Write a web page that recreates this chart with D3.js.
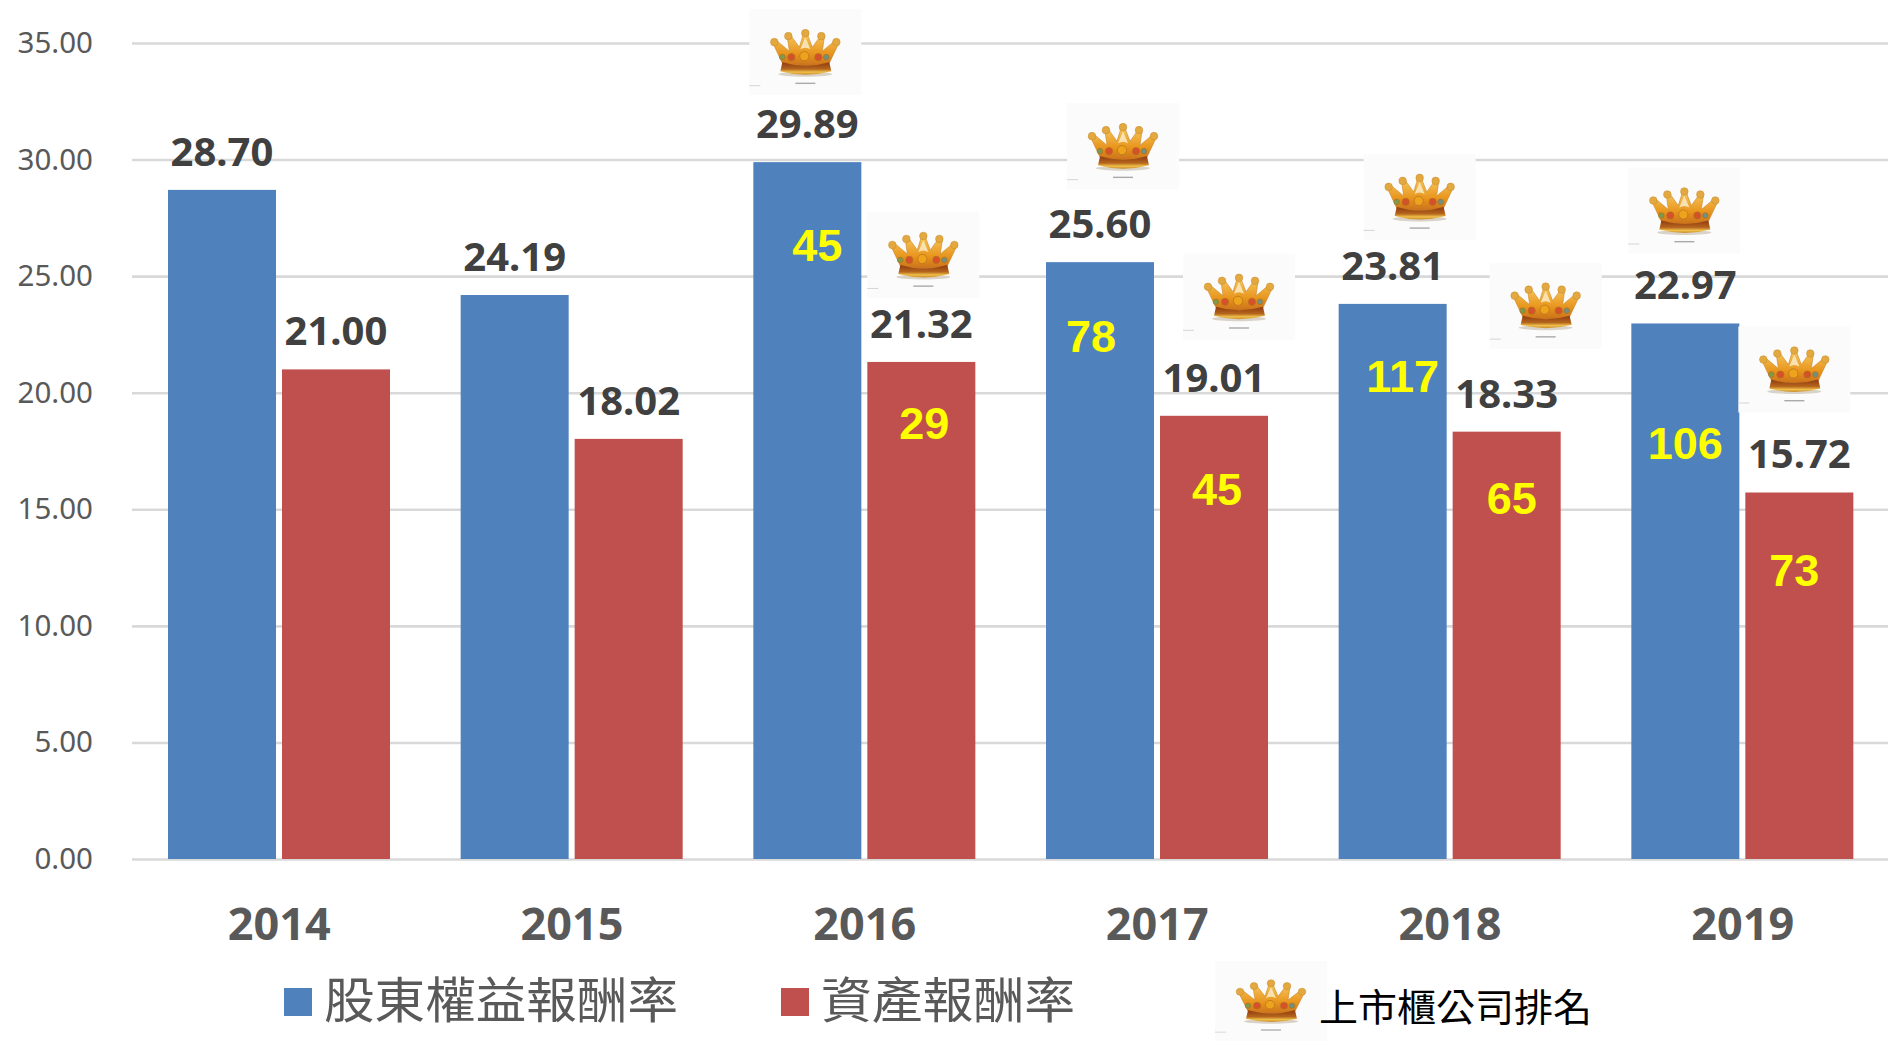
<!DOCTYPE html>
<html><head><meta charset="utf-8">
<script src="https://cdn.jsdelivr.net/npm/d3@7/dist/d3.min.js"></script>
<style>html,body{margin:0;padding:0;background:#fff}svg{display:block}</style>
</head><body><svg id="c" width="1888" height="1041"></svg>
<script>
const years = ["2014","2015","2016","2017","2018","2019"];
const roe = [28.70,24.19,29.89,25.60,23.81,22.97];
const roa = [21.00,18.02,21.32,19.01,18.33,15.72];
const roeRank = [null,null,45,78,117,106];
const roaRank = [null,null,29,45,65,73];
const yTicks = [0,5,10,15,20,25,30,35];
const seriesNames = ["股東權益報酬率","資產報酬率"];
const rankLegend = "上市櫃公司排名";
const seriesColors = ["#4F81BD","#C0504D"];

// layout nudges (hand placed in the source chart), relative to each bar
const roeRankNudge = [null,null,[10,83],[-9,74],[10,72],[0,120]];
const roaRankNudge = [null,null,[3,61],[3,73],[5,66],[-5,78]];
const roeCrownNudge = [null,null,[-4,153],[21,159],[25,150],[-3,156]];
const roaCrownNudge = [null,null,[0,150],[23,162],[37,169],[-7,166]];

const svg = d3.select("#c");
const x = d3.scaleBand().domain(years).range([132,1888]);
const bandInner = d3.scaleBand().domain([0,1]).range([36,258]).paddingInner(6/114).paddingOuter(0);
const y = d3.scaleLinear().domain([0,35]).range([859,43]);

// defs: crown picture
const defs = svg.append("defs");
const gold = defs.append("linearGradient").attr("id","gold").attr("x1",0).attr("y1",0).attr("x2",0).attr("y2",1);
gold.append("stop").attr("offset",0).attr("stop-color","#F6C65A");
gold.append("stop").attr("offset",.6).attr("stop-color","#E8961E");
gold.append("stop").attr("offset",1).attr("stop-color","#C9701A");
const band = defs.append("linearGradient").attr("id","band").attr("x1",0).attr("y1",0).attr("x2",0).attr("y2",1);
band.append("stop").attr("offset",0).attr("stop-color","#8E3A12");
band.append("stop").attr("offset",.55).attr("stop-color","#B5651D");
band.append("stop").attr("offset",.8).attr("stop-color","#F0C04A");
band.append("stop").attr("offset",1).attr("stop-color","#C98A2A");
const blur = defs.append("filter").attr("id","soft").attr("x","-10%").attr("y","-10%").attr("width","120%").attr("height","120%");
blur.append("feGaussianBlur").attr("stdDeviation",.5);

const crown = defs.append("g").attr("id","crown");
crown.append("rect").attr("width",112).attr("height",86).attr("fill","#FBFBFB");
const cg = crown.append("g").attr("filter","url(#soft)");
cg.append("ellipse").attr("cx",56).attr("cy",65).attr("rx",27).attr("ry",2.5).attr("fill","#D9D2C8");
cg.append("path").attr("fill","url(#gold)").attr("stroke","#C9862B").attr("stroke-width",.6)
  .attr("d","M33,54 L24,35 L28,32 L40,42 L38,28 L42,27 L50,38 L54,25 L58,25 L63,38 L71,27 L75,28 L73,42 L85,32 L89,35 L80,54 Q56,60 33,54 Z");
cg.append("path").attr("fill","#F9E2B0").attr("d","M51,40 L56,28 L61,40 Q56,37 51,40 Z");
cg.append("path").attr("fill","url(#band)").attr("d","M33,53 Q56,60 80,53 L82,62 Q56,69 31,62 Z");
[[25,33],[39,27],[56,24],[72,27],[87,33]].forEach(b=>{
  cg.append("circle").attr("cx",b[0]).attr("cy",b[1]).attr("r",3.8).attr("fill","#E3A93F").attr("stroke","#C58A2B").attr("stroke-width",.5);
});
[[33,48,"#7E9A4A",2.8],[42,48,"#D4512A",3.6],[55,47,"#EFA31D",4.6],[69,48,"#D4512A",3.6],[77,48,"#6F9080",2.8]].forEach(g=>{
  cg.append("circle").attr("cx",g[0]).attr("cy",g[1]).attr("r",g[3]).attr("fill",g[2]).attr("stroke","#B5701E").attr("stroke-width",.7);
});
crown.append("rect").attr("x",46).attr("y",73.5).attr("width",20).attr("height",1.4).attr("fill","#AAA");
crown.append("rect").attr("x",0).attr("y",76).attr("width",11).attr("height",1).attr("fill","#D5D5D5");

// y axis + gridlines
const yAxis = d3.axisLeft(y).tickValues(yTicks).tickFormat(d3.format(".2f")).tickSize(-(1888-132)).tickPadding(39);
const ya = svg.append("g").attr("transform","translate(132,0)").call(yAxis);
ya.select(".domain").remove();
ya.selectAll("line").attr("stroke","#D9D9D9").attr("stroke-width",2.6);
ya.selectAll("text").attr("font-family","'Noto Sans',sans-serif").attr("font-size",29.5).attr("fill","#595959");

// x axis labels
const xAxis = d3.axisBottom(x).tickSize(0).tickPadding(49);
const xa = svg.append("g").attr("transform","translate(1,859)").call(xAxis);
xa.select(".domain").remove();
xa.selectAll("text").attr("font-family","'Noto Sans',sans-serif").attr("font-weight",700).attr("font-size",45).attr("fill","#595959");

// bars
const series = [roe,roa];
const rows = [];
series.forEach((vals,s)=>vals.forEach((v,i)=>rows.push({s,i,v,year:years[i]})));
const bx = d=>x(d.year)+bandInner(d.s);
svg.append("g").selectAll("rect").data(rows).join("rect")
  .attr("x",bx).attr("y",d=>y(d.v)).attr("width",bandInner.bandwidth()).attr("height",d=>y(0)-y(d.v))
  .attr("fill",d=>seriesColors[d.s]);

// crowns
const crownNudges=[roeCrownNudge,roaCrownNudge];
svg.append("g").selectAll("use").data(rows.filter(d=>crownNudges[d.s][d.i])).join("use")
  .attr("href","#crown")
  .attr("x",d=>bx(d)+crownNudges[d.s][d.i][0])
  .attr("y",d=>y(d.v)-crownNudges[d.s][d.i][1]);

// value labels
svg.append("g").selectAll("text").data(rows).join("text")
  .attr("x",d=>bx(d)+bandInner.bandwidth()/2)
  .attr("y",d=>y(d.v)-24)
  .attr("text-anchor","middle")
  .attr("font-family","'Noto Sans',sans-serif").attr("font-weight",700).attr("font-size",40)
  .attr("fill","#404040").text(d=>d3.format(".2f")(d.v));

// rank labels
const ranks=[roeRank,roaRank], rankNudges=[roeRankNudge,roaRankNudge];
svg.append("g").selectAll("text").data(rows.filter(d=>ranks[d.s][d.i]!=null)).join("text")
  .attr("x",d=>bx(d)+bandInner.bandwidth()/2+rankNudges[d.s][d.i][0])
  .attr("y",d=>y(d.v)+rankNudges[d.s][d.i][1]+16)
  .attr("text-anchor","middle")
  .attr("font-family","'Liberation Sans',sans-serif").attr("font-weight",700).attr("font-size",45)
  .attr("fill","#FFFF00").text(d=>ranks[d.s][d.i]);

// legend
const legendX=[284,781], legendTextX=[324,821], legendTextW=[354,254];
const lg=svg.append("g");
seriesNames.forEach((n,i)=>{
  lg.append("rect").attr("x",legendX[i]).attr("y",988).attr("width",28).attr("height",28).attr("fill",seriesColors[i]);
  lg.append("text").attr("x",legendTextX[i]).attr("y",1018)
    .attr("font-family","'Noto Sans CJK TC',sans-serif").attr("font-size",49).attr("fill","#595959")
    .attr("textLength",legendTextW[i]).attr("lengthAdjust","spacingAndGlyphs").text(n);
});
lg.append("use").attr("href","#crown").attr("transform","translate(1215,961) scale(1,.93)");
lg.append("text").attr("x",1319).attr("y",1021)
  .attr("font-family","'Noto Sans CJK TC',sans-serif").attr("font-size",38).attr("fill","#000")
  .attr("textLength",273).attr("lengthAdjust","spacingAndGlyphs").text(rankLegend);
</script></body></html>
